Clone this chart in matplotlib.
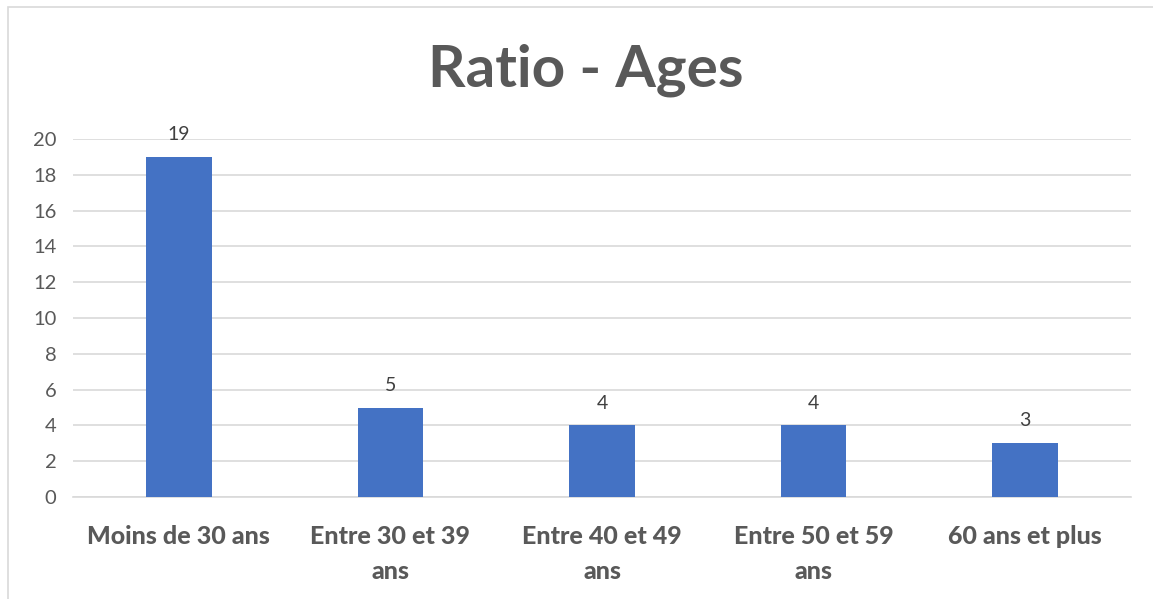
import matplotlib

matplotlib.use("Agg")
import matplotlib.pyplot as plt
from matplotlib.patches import Rectangle

categories = ["Moins de 30 ans", "Entre 30 et 39\nans", "Entre 40 et 49\nans", "Entre 50 et 59\nans", "60 ans et plus"]
counts = [19, 5, 4, 4, 3]
y_ticks = [0, 2, 4, 6, 8, 10, 12, 14, 16, 18, 20]

plt.rcParams["font.family"] = ["Lato", "DejaVu Sans"]

W, H = 1153, 599
fig = plt.figure(figsize=(W / 100, H / 100), dpi=100)
ax = fig.add_axes([73 / W, 1 - 497 / H, (1131 - 73) / W, (497 - 139) / H])

x = list(range(len(categories)))
bars = ax.bar(x, counts, width=0.31, color="#4472C4", zorder=3)
ax.bar_label(bars, labels=[str(c) for c in counts], padding=10, fontsize=14, color="#404040")

ax.set_xlim(-0.5, len(categories) - 0.5)
ax.set_ylim(0, 20)
ax.set_yticks(y_ticks)
ax.set_yticklabels([str(t) for t in y_ticks], fontsize=14.5, color="#595959")
ax.set_xticks(x)
ax.set_xticklabels(categories, fontsize=18, fontweight=900, color="#595959", linespacing=1.65)
ax.tick_params(axis="both", length=0)
ax.tick_params(axis="x", pad=20)
ax.tick_params(axis="y", pad=12)
ax.grid(axis="y", color="#D9D9D9", linewidth=1.2, zorder=0)
for side in ["top", "right", "left"]:
    ax.spines[side].set_visible(False)
ax.spines["bottom"].set_color("#D9D9D9")
ax.spines["bottom"].set_linewidth(1.2)

fig.text(586 / W, 1 - 70 / H, "Ratio - Ages", ha="center", va="center",
         fontsize=42, fontweight="bold", color="#595959")

fig.patches.append(Rectangle((8 / W, -0.1), 1.2, 1 - 7 / H + 0.1, transform=fig.transFigure,
                             fill=False, edgecolor="#D9D9D9", linewidth=1.2))

fig.savefig("out.png", dpi=100)
